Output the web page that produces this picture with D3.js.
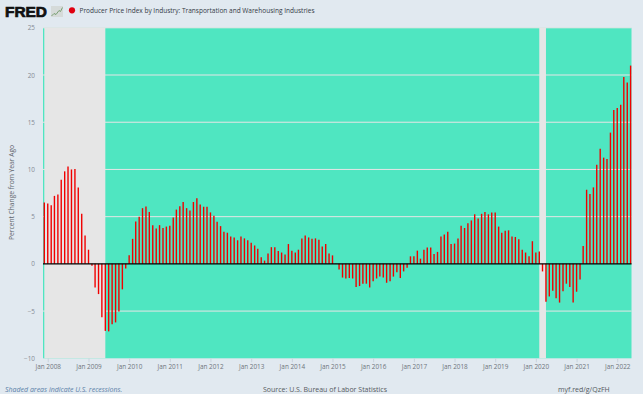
<!DOCTYPE html>
<html>
<head>
<meta charset="utf-8">
<script src="https://cdn.jsdelivr.net/npm/d3@7"></script>
<style>
  html, body { margin: 0; padding: 0; background: #e1e9f0; }
  svg { display: block; }
  text { font-family: "Open Sans", sans-serif; }
  .tick text { fill: #6f757c; font-size: 6.4px; }
  .y-axis .tick text { fill: #868c94; }
  .tick line { stroke: #c9d3dd; }
  .domain { display: none; }
</style>
</head>
<body>
<div id="my_dataviz"></div>
<script>
// data //
const titleText = "Producer Price Index by Industry: Transportation and Warehousing Industries";
const yLabelText = "Percent Change from Year Ago";
const yTicks = [-10, -5, 0, 5, 10, 15, 20, 25];
const xTickYears = d3.range(2008, 2023);
const recessions = [["2007-12-01", "2009-06-01"], ["2020-02-01", "2020-04-01"]];

// percent change, monthly from Dec 2007 to May 2022
const values = [
  6.5,
  6.4, 6.2, 7.2, 7.35, 8.9, 9.8, 10.3, 10.0, 10.05, 8.1, 5.3, 3.0,
  1.5, -0.2, -2.5, -3.2, -5.65, -7.1, -7.15, -6.4, -6.2, -5.05, -2.7, -0.5,
  0.9, 2.65, 4.5, 5.0, 5.9, 6.08, 5.5, 4.1, 3.75, 4.1, 3.8, 3.95,
  4.05, 4.9, 5.75, 6.1, 6.55, 5.9, 5.65, 6.55, 6.95, 6.3, 6.05, 6.05,
  5.45, 5.1, 4.45, 4.0, 3.4, 3.3, 2.9, 2.8, 2.5, 2.9, 2.7, 2.5,
  2.25, 1.95, 1.6, 0.7, 0.35, 1.1, 1.77, 1.77, 1.35, 1.2, 1.0, 2.1,
  1.4, 1.2, 1.5, 2.7, 3.0, 2.8, 2.65, 2.7, 2.55, 1.85, 2.1, 1.1,
  0.9, 0.05, -0.6, -1.45, -1.55, -1.5, -1.55, -2.45, -2.35, -2.1, -2.1, -2.5,
  -1.85, -1.55, -1.35, -1.45, -2.0, -1.85, -1.35, -0.9, -1.5, -0.8, -0.4, 0.8,
  0.8, 1.4, 0.55, 1.5, 1.73, 1.73, 1.05, 1.27, 2.9, 3.1, 3.4, 2.1,
  2.15, 2.7, 4.05, 3.8, 4.3, 4.6, 5.25, 4.8, 5.3, 5.5, 5.25, 5.45,
  5.45, 3.95, 3.3, 3.5, 3.55, 2.9, 2.85, 2.6, 1.5, 1.2, 0.8, 2.4,
  1.2, 1.3, -0.8, -4.0, -3.45, -2.85, -3.65, -4.1, -2.9, -2.1, -2.45, -4.1,
  -2.95, -1.65, 1.9, 7.85, 7.4, 8.1, 10.5, 12.2, 11.25, 11.1, 13.9, 16.3,
  16.5, 16.85, 19.8, 19.2, 21.0
];

const months = d3.timeMonth.range(new Date(2007, 11, 1), new Date(2022, 5, 1));

///set dimensions///
const width = 643, height = 394;
const plot = { left: 43, right: 631.5, top: 27.8, bottom: 358.3 };

const svg = d3.select("#my_dataviz").append("svg")
  .attr("width", width)
  .attr("height", height);

const x = d3.scaleTime()
  .domain([months[0], months[months.length - 1]])
  .range([44.3, 630.6]);

const y = d3.scaleLinear()
  .domain([-10, 25])
  .range([plot.bottom, plot.top]);

const parseDay = d3.timeParse("%Y-%m-%d");

// plot background
svg.append("rect")
  .attr("x", plot.left)
  .attr("y", plot.top)
  .attr("width", plot.right - plot.left)
  .attr("height", plot.bottom - plot.top)
  .attr("fill", "#4fe6c1");

// recession bands
svg.selectAll(".recession")
  .data(recessions)
  .join("rect")
  .attr("class", "recession")
  .attr("x", d => x(parseDay(d[0])))
  .attr("y", plot.top)
  .attr("width", d => x(parseDay(d[1])) - x(parseDay(d[0])))
  .attr("height", plot.bottom - plot.top)
  .attr("fill", "#e6e6e6");

// grid lines
svg.selectAll(".grid")
  .data(yTicks.filter(d => d !== 0 && d !== -10))
  .join("line")
  .attr("class", "grid")
  .attr("x1", plot.left)
  .attr("x2", plot.right)
  .attr("y1", d => y(d))
  .attr("y2", d => y(d))
  .attr("stroke", "#e6e6e6")
  .attr("stroke-width", 1);

// bars
svg.selectAll(".bar")
  .data(values)
  .join("line")
  .attr("class", "bar")
  .attr("x1", (d, i) => x(months[i]))
  .attr("x2", (d, i) => x(months[i]))
  .attr("y1", y(0))
  .attr("y2", d => y(d))
  .attr("stroke", "#f00000")
  .attr("stroke-width", 1.4);

// zero line
svg.append("line")
  .attr("x1", plot.left)
  .attr("x2", plot.right)
  .attr("y1", y(0))
  .attr("y2", y(0))
  .attr("stroke", "#000")
  .attr("stroke-width", 1.3);

// axes
svg.append("g")
  .attr("transform", `translate(0,${plot.bottom})`)
  .call(d3.axisBottom(x)
    .tickValues(xTickYears.map(yr => new Date(yr, 0, 1)))
    .tickFormat(d3.timeFormat("Jan %Y"))
    .tickSize(4)
    .tickPadding(2));

svg.append("g")
  .attr("class", "y-axis")
  .attr("transform", `translate(${plot.left},0)`)
  .call(d3.axisLeft(y).tickValues(yTicks).tickSize(0).tickPadding(8));

// y label
svg.append("text")
  .attr("text-anchor", "middle")
  .attr("transform", "translate(14,192.5) rotate(-90)")
  .attr("fill", "#5f656c")
  .attr("font-size", 6.9)
  .attr("textLength", 95)
  .attr("lengthAdjust", "spacingAndGlyphs")
  .text(yLabelText);

// header
svg.append("text")
  .attr("x", 5)
  .attr("y", 16.8)
  .attr("fill", "#111")
  .attr("font-size", 14)
  .attr("font-weight", 700)
  .attr("style", "font-family:'Liberation Sans',sans-serif")
  .attr("stroke", "#111")
  .attr("stroke-width", 0.7)
  .attr("textLength", 42)
  .attr("lengthAdjust", "spacingAndGlyphs")
  .text("FRED");

// small logo chart
const logo = svg.append("g").attr("transform", "translate(51,6)");
logo.append("rect").attr("width", 12).attr("height", 11).attr("fill", "#d5dad9");
logo.append("path")
  .attr("d", "M0.5,10 L3,7.5 L5,8.5 L8,4.5 L9.5,5.5 L11.5,1.5")
  .attr("fill", "none")
  .attr("stroke", "#6f9a6a")
  .attr("stroke-width", 0.9);

svg.append("circle")
  .attr("cx", 72)
  .attr("cy", 10.3)
  .attr("r", 3.1)
  .attr("fill", "#e00010");

svg.append("text")
  .attr("x", 79.5)
  .attr("y", 13.3)
  .attr("fill", "#333a45")
  .attr("font-size", 7.1)
  .attr("textLength", 235)
  .attr("lengthAdjust", "spacingAndGlyphs")
  .text(titleText);

// footer
svg.append("text")
  .attr("x", 5)
  .attr("y", 391.5)
  .attr("fill", "#5a7fa8")
  .attr("font-size", 7)
  .attr("font-style", "italic")
  .text("Shaded areas indicate U.S. recessions.");

svg.append("text")
  .attr("x", 263)
  .attr("y", 391.5)
  .attr("fill", "#555a60")
  .attr("font-size", 7)
  .text("Source: U.S. Bureau of Labor Statistics");

svg.append("text")
  .attr("x", 558)
  .attr("y", 391.5)
  .attr("fill", "#555a60")
  .attr("font-size", 7)
  .text("myf.red/g/QzFH");
</script>
</body>
</html>
